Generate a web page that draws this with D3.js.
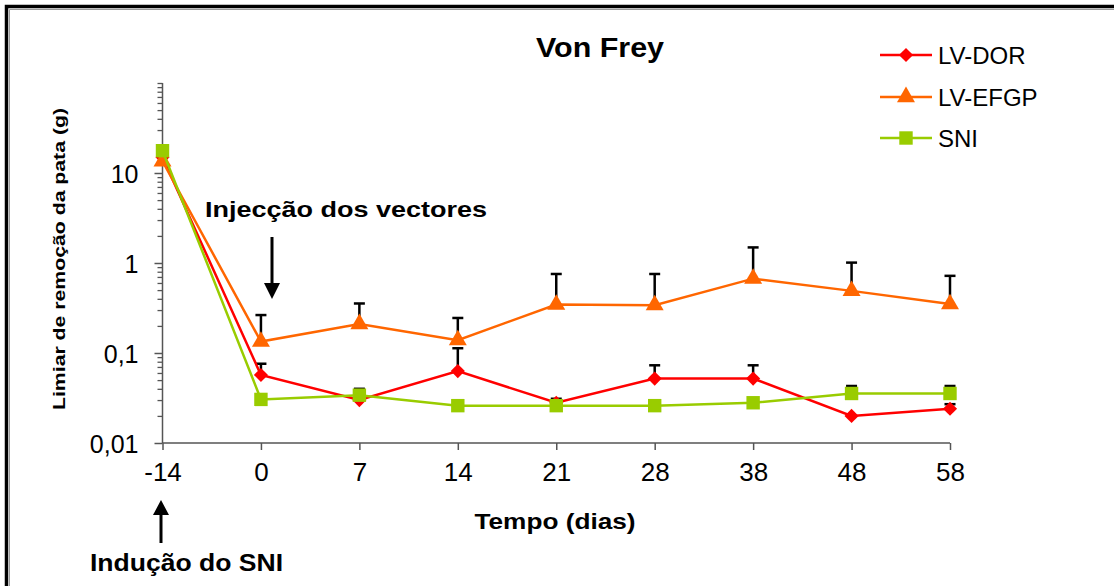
<!DOCTYPE html>
<html><head><meta charset="utf-8">
<script src="https://cdn.jsdelivr.net/npm/d3@7"></script>
<style>
html,body{margin:0;padding:0;background:#fff;}
text{font-family:"Liberation Sans",Arial,sans-serif;}
</style></head>
<body>
<svg id="c" width="1114" height="586"></svg>
<script>
const categories = ["-14","0","7","14","21","28","38","48","58"];
const seriesNames = ["LV-DOR","LV-EFGP","SNI"];
const dorValues  = [15, 0.057, 0.030, 0.063, 0.028, 0.052, 0.052, 0.020, 0.024];
const dorSem     = [0, 0.019, 0.004, 0.05, 0.003, 0.021, 0.021, 0, 0.003];
const efgpValues = [13.5, 0.134, 0.21, 0.139, 0.345, 0.34, 0.67, 0.49, 0.35];
const efgpSem    = [0, 0.13, 0.145, 0.106, 0.41, 0.415, 0.82, 0.52, 0.37];
const sniValues  = [17.7, 0.0305, 0.034, 0.026, 0.026, 0.026, 0.028, 0.0355, 0.0355];
const sniSem     = [0, 0, 0.006, 0, 0, 0, 0, 0.0075, 0.0075];
const yMajorTicks = [0.01, 0.1, 1, 10];
const yTickLabels = ["0,01", "0,1", "1", "10"];

const svg = d3.select("#c");

// frame
svg.append("path").attr("d", "M6.5,600V6.5H1130").attr("fill","none").attr("stroke","#000").attr("stroke-width",3.5);
svg.append("path").attr("d", "M9.5,600V9.5H1130").attr("fill","none").attr("stroke","#999").attr("stroke-width",1);

const x = d3.scalePoint().domain(categories).range([162.5, 950]);
const y = d3.scaleLog().domain([0.01, 100]).range([443, 83]);

// minor ticks
const minor = [];
for (let d = 0.01; d < 100; d *= 10) for (let k = 2; k <= 10; k++) minor.push(+(d * k).toPrecision(3));
const minorAxis = d3.axisLeft(y).tickValues(minor.filter(v => !yMajorTicks.includes(v))).tickSize(5).tickFormat("");
const gMin = svg.append("g").attr("transform","translate(162.5,0)").call(minorAxis);
gMin.select(".domain").remove();
gMin.selectAll("line").attr("stroke","#555").attr("stroke-width",1.3);

const yAxis = d3.axisLeft(y).tickValues(yMajorTicks).tickSize(8).tickPadding(16)
  .tickFormat((d,i) => yTickLabels[i]);
const gy = svg.append("g").attr("transform","translate(162.5,0)").call(yAxis);
gy.select(".domain").attr("d","M0,83V443").attr("stroke","#555").attr("stroke-width",1.5);
gy.selectAll("line").attr("stroke","#555").attr("stroke-width",1.5);
gy.selectAll("text").attr("font-size",25).attr("fill","#000").attr("font-family","Liberation Sans, Arial, sans-serif").attr("dy","0.36em");

const xAxis = d3.axisBottom(x).tickSize(7).tickPadding(22);
const gx = svg.append("g").attr("transform","translate(0,443)").call(xAxis);
gx.select(".domain").attr("d","M162.5,0H950").attr("stroke","#555").attr("stroke-width",1.5);
gx.selectAll("line").attr("stroke","#555").attr("stroke-width",1.5);
gx.selectAll("text").attr("font-size",26).attr("fill","#000").attr("font-family","Liberation Sans, Arial, sans-serif").attr("dy","0.36em");

const series = [
  {name: seriesNames[0], values: dorValues, sem: dorSem, color: "#FF0000", sym: d3.symbolSquare, size: 100, rot: 45},
  {name: seriesNames[1], values: efgpValues, sem: efgpSem, color: "#FF6600", sym: d3.symbolTriangle, size: 140, rot: 0},
  {name: seriesNames[2], values: sniValues, sem: sniSem, color: "#99CC00", sym: d3.symbolSquare, size: 180, rot: 0}
];

// error bars
series.forEach(s => {
  const g = svg.append("g");
  s.values.forEach((v, i) => {
    if (!s.sem[i]) return;
    const cx = x(categories[i]);
    const top = y(v + s.sem[i]);
    g.append("line").attr("x1",cx).attr("x2",cx).attr("y1",y(v)).attr("y2",top).attr("stroke","#000").attr("stroke-width",2.5);
    g.append("line").attr("x1",cx-5.5).attr("x2",cx+5.5).attr("y1",top).attr("y2",top).attr("stroke","#000").attr("stroke-width",2.5);
  });
});

const line = d3.line().x((d,i) => x(categories[i])).y(d => y(d));
series.forEach(s => {
  svg.append("path").attr("d", line(s.values)).attr("fill","none").attr("stroke", s.color).attr("stroke-width",2.5);
  svg.append("g").selectAll("path").data(s.values).join("path")
    .attr("transform",(d,i) => `translate(${x(categories[i])},${y(d)}) rotate(${s.rot})`)
    .attr("d", d3.symbol(s.sym, s.size)).attr("fill", s.color);
});

// legend
const legY = [55, 97, 138];
series.forEach((s, i) => {
  const g = svg.append("g").attr("transform", `translate(0,${legY[i]})`);
  g.append("line").attr("x1",880).attr("x2",932).attr("stroke",s.color).attr("stroke-width",2.5);
  g.append("path").attr("transform",`translate(906,0) rotate(${s.rot})`).attr("d", d3.symbol(s.sym, s.size)).attr("fill", s.color);
  g.append("text").attr("x",938).attr("dy","0.36em").attr("font-size",24).text(s.name);
});

// title
svg.append("text").attr("x",600).attr("y",57).attr("text-anchor","middle").attr("font-size",27).attr("font-weight","bold")
  .attr("textLength",128).attr("lengthAdjust","spacingAndGlyphs").text("Von Frey");

// axis titles
svg.append("text").attr("x",555).attr("y",529).attr("text-anchor","middle").attr("font-size",22).attr("font-weight","bold")
  .attr("textLength",161).attr("lengthAdjust","spacingAndGlyphs").text("Tempo (dias)");
svg.append("text").attr("transform","translate(65,259) rotate(-90)").attr("text-anchor","middle").attr("font-size",16).attr("font-weight","bold")
  .attr("textLength",302).attr("lengthAdjust","spacingAndGlyphs").text("Limiar de remoção da pata (g)");

// annotations
svg.append("text").attr("x",205).attr("y",217).attr("font-size",22).attr("font-weight","bold")
  .attr("textLength",282).attr("lengthAdjust","spacingAndGlyphs").text("Injecção dos vectores");
svg.append("text").attr("x",90).attr("y",571).attr("font-size",23).attr("font-weight","bold")
  .attr("textLength",193).attr("lengthAdjust","spacingAndGlyphs").text("Indução do SNI");

// arrows
svg.append("line").attr("x1",272).attr("x2",272).attr("y1",237).attr("y2",284).attr("stroke","#000").attr("stroke-width",3);
svg.append("path").attr("d","M264,283L280,283L272,299Z").attr("fill","#000");
svg.append("line").attr("x1",161).attr("x2",161).attr("y1",543).attr("y2",512).attr("stroke","#000").attr("stroke-width",3);
svg.append("path").attr("d","M153,515L169,515L161,500Z").attr("fill","#000");
</script>
</body></html>
